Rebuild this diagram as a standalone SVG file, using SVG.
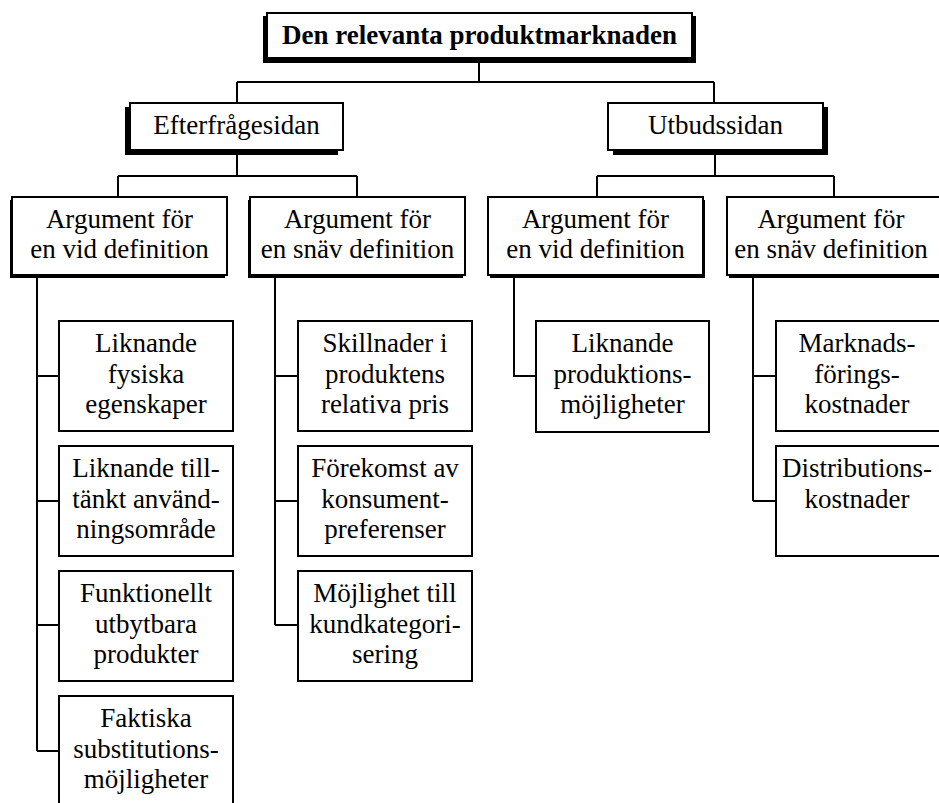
<svg xmlns="http://www.w3.org/2000/svg" width="939" height="803" viewBox="0 0 939 803">
<style>
text{font-family:'Liberation Serif','Times New Roman','DejaVu Serif',serif;font-size:27px;fill:#000;text-anchor:middle}
.b{font-weight:bold}
.box{fill:#fff;stroke:#000;stroke-width:2}
.sh{fill:#000}
.ln{fill:none;stroke:#000;stroke-width:2}
</style>
<rect width="939" height="803" fill="#fff"/>
<g id="connectors">
<path class="ln" d="M479 58V82M237 82H714M237 82V103M714 82V103"/>
<path class="ln" d="M237 150V176M118 176H357M118 176V197M357 176V197"/>
<path class="ln" d="M715 150V176M597 176H834M597 176V197M834 176V197"/>
<path class="ln" d="M37 275V751M37 376H59M37 501H59M37 625H59M37 751H59"/>
<path class="ln" d="M275 275V625M275 376H298M275 501H298M275 625H298"/>
<path class="ln" d="M514 275V376H536"/>
<path class="ln" d="M753 275V501M753 376H776M753 501H776"/>
</g>
<g font-family="Liberation Serif, serif">
<g id="root">
<rect class="sh" x="263" y="16" width="433" height="47"/>
<rect class="box" x="267" y="13" width="425" height="45"/>
<text class="b" x="479.5" y="44">Den relevanta produktmarknaden</text>
</g>
<g id="efterfragesidan">
<rect class="sh" x="125" y="107" width="213" height="48"/>
<rect class="box" x="130" y="103" width="213" height="47"/>
<text x="236.5" y="134">Efterfrågesidan</text>
</g>
<g id="utbudssidan">
<rect class="sh" x="613" y="107" width="215" height="48"/>
<rect class="box" x="608" y="103" width="215" height="47"/>
<text x="715.5" y="134">Utbudssidan</text>
</g>
<g id="ef-vid">
<rect class="sh" x="10" y="200" width="215" height="78"/>
<rect class="box" x="12" y="197" width="215" height="78"/>
<text x="119.5" y="228">Argument för</text>
<text x="119.5" y="258">en vid definition</text>
</g>
<g id="ef-snav">
<rect class="sh" x="248" y="200" width="215" height="78"/>
<rect class="box" x="250" y="197" width="215" height="78"/>
<text x="357.5" y="228">Argument för</text>
<text x="357.5" y="258">en snäv definition</text>
</g>
<g id="ut-vid">
<rect class="sh" x="490" y="200" width="215" height="78"/>
<rect class="box" x="488" y="197" width="215" height="78"/>
<text x="595.5" y="228">Argument för</text>
<text x="595.5" y="258">en vid definition</text>
</g>
<g id="ut-snav">
<rect class="sh" x="729" y="200" width="215" height="78"/>
<rect class="box" x="727" y="197" width="215" height="78"/>
<text x="831" y="228">Argument för</text>
<text x="831" y="258">en snäv definition</text>
</g>
<g id="l1">
<rect class="box" x="59" y="321" width="174" height="110"/>
<text x="146" y="352">Liknande</text>
<text x="146" y="383">fysiska</text>
<text x="146" y="413">egenskaper</text>
</g>
<g id="l2">
<rect class="box" x="59" y="446" width="174" height="110"/>
<text x="146" y="477">Liknande till-</text>
<text x="146" y="508">tänkt använd-</text>
<text x="146" y="538">ningsområde</text>
</g>
<g id="l3">
<rect class="box" x="59" y="571" width="174" height="110"/>
<text x="146" y="602">Funktionellt</text>
<text x="146" y="633">utbytbara</text>
<text x="146" y="663">produkter</text>
</g>
<g id="l4">
<rect class="box" x="59" y="696" width="174" height="112"/>
<text x="146" y="727">Faktiska</text>
<text x="146" y="758">substitutions-</text>
<text x="146" y="788">möjligheter</text>
</g>
<g id="s1">
<rect class="box" x="298" y="321" width="174" height="110"/>
<text x="385" y="352">Skillnader i</text>
<text x="385" y="383">produktens</text>
<text x="385" y="413">relativa pris</text>
</g>
<g id="s2">
<rect class="box" x="298" y="446" width="174" height="110"/>
<text x="385" y="477">Förekomst av</text>
<text x="385" y="508">konsument-</text>
<text x="385" y="538">preferenser</text>
</g>
<g id="s3">
<rect class="box" x="298" y="571" width="174" height="110"/>
<text x="385" y="602">Möjlighet till</text>
<text x="385" y="633">kundkategori-</text>
<text x="385" y="663">sering</text>
</g>
<g id="u1">
<rect class="box" x="536" y="321" width="173" height="111"/>
<text x="622.5" y="352">Liknande</text>
<text x="622.5" y="383">produktions-</text>
<text x="622.5" y="413">möjligheter</text>
</g>
<g id="m1">
<rect class="box" x="776" y="321" width="174" height="110"/>
<text x="857" y="352">Marknads-</text>
<text x="857" y="383">förings-</text>
<text x="857" y="413">kostnader</text>
</g>
<g id="m2">
<rect class="box" x="776" y="446" width="174" height="110"/>
<text x="857" y="477">Distributions-</text>
<text x="857" y="508">kostnader</text>
</g>
</g>
</svg>
